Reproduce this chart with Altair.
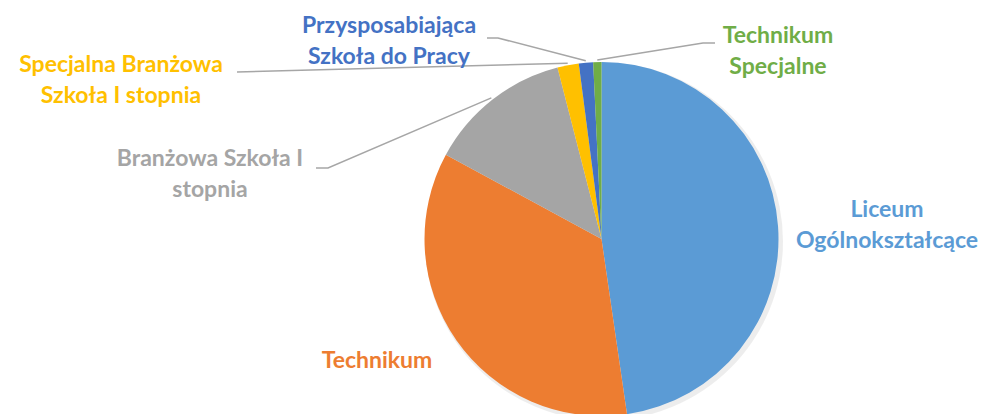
import math
import altair as alt
import pandas as pd

# ---- data ----
categories = [
    "Liceum Ogólnokształcące",
    "Technikum",
    "Branżowa Szkoła I stopnia",
    "Specjalna Branżowa Szkoła I stopnia",
    "Przysposabiająca Szkoła do Pracy",
    "Technikum Specjalne",
]
values = [47.7, 35.2, 13.1, 1.95, 1.3, 0.75]
label_texts = [
    "Liceum\nOgólnokształcące",
    "Technikum",
    "Branżowa Szkoła I\nstopnia",
    "Specjalna Branżowa\nSzkoła I stopnia",
    "Przysposabiająca\nSzkoła do Pracy",
    "Technikum\nSpecjalne",
]

# ---- styles / layout ----
colors = ["#5B9BD5", "#ED7D31", "#A5A5A5", "#FFC000", "#4472C4", "#70AD47"]
W, H = 974, 406
CX, CY, R = 593.5, 231.0, 177
FONT = "Lato"
FSIZE = 23
# label anchor (center x, first-line baseline y) in px
label_pos = {
    categories[0]: (879, 209),
    categories[1]: (369, 360),
    categories[2]: (202, 158),
    categories[3]: (113, 64),
    categories[4]: (381, 25),
    categories[5]: (770, 35),
}
# leader line start points (near label) and elbows, px
leader_pts = {
    categories[2]: [(308, 160), (320, 160)],
    categories[3]: [(229, 64)],
    categories[4]: [(479, 30), (490, 30)],
    categories[5]: [(707, 35), (695, 35)],
}
LEADER_R = 179

df = pd.DataFrame({"category": categories, "value": values, "idx": range(len(categories))})

# leader end points on the pie edge at each slice's mid-angle (from the data)
total = sum(values)
cum = 0.0
mid_angle = {}
for c, v in zip(categories, values):
    mid_angle[c] = (cum + v / 2) / total * 2 * math.pi
    cum += v

rows = []
for c, pts in leader_pts.items():
    a = mid_angle[c]
    end = (CX + LEADER_R * math.sin(a), CY - LEADER_R * math.cos(a))
    for i, (x, y) in enumerate(list(pts) + [end]):
        rows.append({"category": c, "seq": i, "px": x, "py": y})
leaders = pd.DataFrame(rows)

labels = pd.DataFrame({
    "category": categories,
    "text": label_texts,
    "lx": [label_pos[c][0] for c in categories],
    "ly": [label_pos[c][1] for c in categories],
})

color_scale = alt.Scale(domain=categories, range=colors)

shadow = alt.Chart(df).mark_arc(color="#000000", opacity=0.07).encode(
    theta=alt.Theta("sum(value):Q"),
    x=alt.value(CX + 2.5), y=alt.value(CY + 2.5), radius=alt.value(R + 2),
)

pie = alt.Chart(df).mark_arc(stroke=None).encode(
    theta=alt.Theta("value:Q", stack=True),
    order=alt.Order("idx:Q", sort="ascending"),
    color=alt.Color("category:N", scale=color_scale, legend=None),
    x=alt.value(CX), y=alt.value(CY), radius=alt.value(R),
)

lines = alt.Chart(leaders).mark_line(color="#A6A6A6", strokeWidth=1.5).encode(
    x=alt.X("px:Q", scale=None),
    y=alt.Y("py:Q", scale=None),
    detail="category:N",
    order="seq:Q",
)

texts = alt.Chart(labels).mark_text(
    font=FONT, fontSize=FSIZE, fontWeight="bold", align="center",
    baseline="alphabetic", lineBreak="\n", lineHeight=31,
).encode(
    x=alt.X("lx:Q", scale=None),
    y=alt.Y("ly:Q", scale=None),
    text="text:N",
    color=alt.Color("category:N", scale=color_scale, legend=None),
)

chart = alt.layer(shadow, pie, lines, texts).properties(
    width=W, height=H, padding=0, autosize=alt.AutoSizeParams(type="none"),
    background="white",
).configure_view(stroke=None)

chart.save("out.html", embed_options={"renderer": "svg", "actions": False})
